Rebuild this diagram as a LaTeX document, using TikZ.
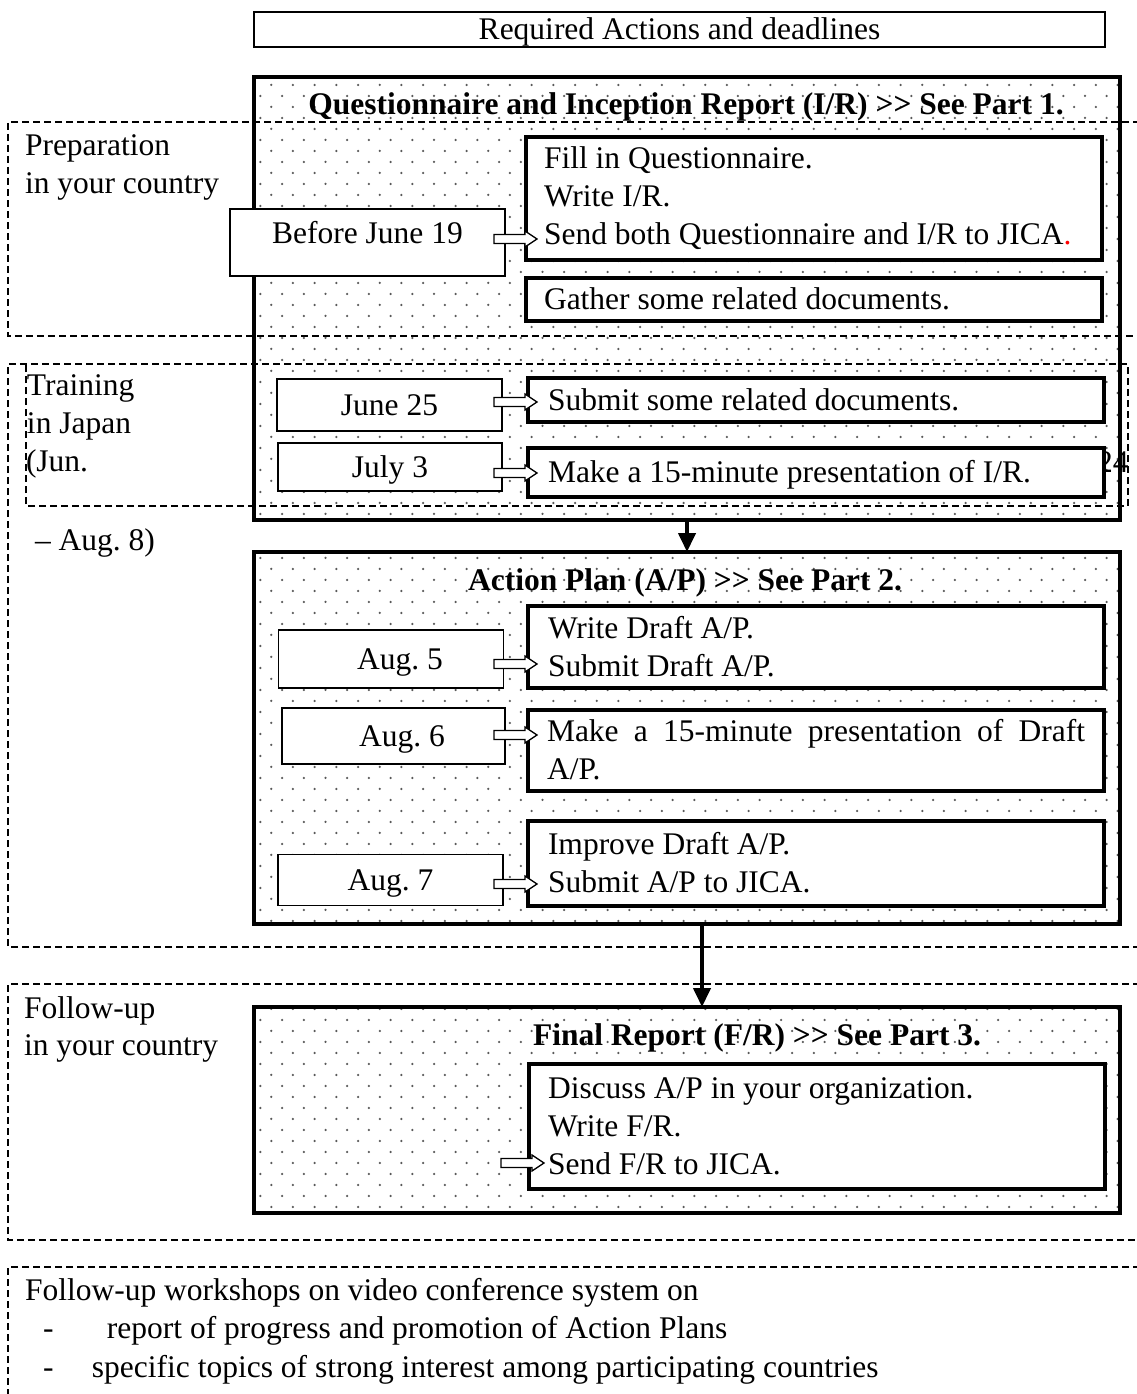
\documentclass[tikz,border=0pt]{standalone}
\usepackage{fontspec}
\setmainfont{Liberation Serif}
\usetikzlibrary{arrows.meta,patterns,calc}
\pgfdeclarepatternformonly{sparsedots}{\pgfqpoint{-1.6pt}{-1.6pt}}{\pgfqpoint{20pt}{20.4pt}}{\pgfqpoint{21.7pt}{22pt}}{%
  \pgfpathcircle{\pgfqpoint{0pt}{0pt}}{1.25pt}%
  \pgfpathcircle{\pgfqpoint{10.85pt}{11pt}}{1.25pt}%
  \pgfusepath{fill}}
\begin{document}
\begin{tikzpicture}[x=1pt,y=-1pt,
  every node/.style={font=\fontsize{31.5pt}{38pt}\selectfont, inner sep=0pt, outer sep=0pt},
  bf/.style={font=\fontsize{31.5pt}{38pt}\selectfont\bfseries},
  lbl/.style={text height=21pt, text depth=1pt},
  bigbox/.style={draw, line width=4pt, pattern=sparsedots, pattern color=black!65, minimum width=866pt},
  actbox/.style={draw, line width=4pt, fill=white, align=flush left, minimum width=576pt},
  datebox/.style={draw, line width=1.4pt, fill=white, lbl},
  region/.style={line width=1.3pt, dash pattern=on 7pt off 4pt},
  bigarrow/.style={line width=4pt, -{Triangle[width=17pt,length=19pt]}},
  pics/harrow/.style={code={\draw[line width=1.3pt, fill=white, line join=miter] (0,-4.5) -- (31,-4.5) -- (31,-8) -- (43,0) -- (31,8) -- (31,4.5) -- (0,4.5) -- cycle;}},
]
\useasboundingbox (0,0) rectangle (1136,1394);

% header
\node[draw, line width=1.4pt, minimum width=851pt, minimum height=35pt, lbl] (title) at (679.5,29.5) {Required Actions and deadlines};

% big dotted boxes
\node[bigbox, minimum height=443pt] (box1) at (687,298.5) {};
\node[bigbox, minimum height=372pt] (box2) at (687,738) {};
\node[bigbox, minimum height=206pt] (box3) at (687,1110) {};

\node[anchor=west, lbl] (num) at (1097,462) {24};
\draw[line width=4pt] (box1.north east) -- (box1.south east);

% action boxes
\node[actbox, minimum height=122pt, text width=540pt] (fillb) at (814,198.5) {Fill in Questionnaire.\\Write I/R.\\\mbox{Send both Questionnaire and I/R to JICA{\color{red}.}}};
\node[actbox, minimum height=43pt, text width=540pt, lbl] (gather) at (814,299.5) {Gather some related documents.};
\node[actbox, minimum height=44pt, text width=536pt, lbl] (submit) at (816,400) {Submit some related documents.};
\node[actbox, minimum height=49pt, text width=536pt, lbl] (make1) at (816,472.5) {Make a 15-minute presentation of I/R.};
\node[actbox, minimum height=82pt, text width=536pt] (write) at (816,646.5) {Write Draft A/P.\\Submit Draft A/P.};
\node[actbox, minimum height=81pt, text width=538pt] (make2) at (816,750) {\hbox to 538pt{Make\hfill a\hfill 15-minute\hfill presentation\hfill of\hfill Draft}\\A/P.};
\node[actbox, minimum height=85pt, text width=536pt] (improve) at (816,863) {Improve Draft A/P.\\Submit A/P to JICA.};
\node[actbox, minimum height=125pt, text width=538pt] (discuss) at (817,1126.5) {Discuss A/P in your organization.\\Write F/R.\\Send F/R to JICA.};

% date boxes
\node[datebox, minimum width=275pt, minimum height=67pt, text depth=20pt] (before) at (367.5,242.5) {Before June 19};
\node[datebox, minimum width=225pt, minimum height=52pt] (jun25) at (389.5,405) {June 25};
\node[datebox, minimum width=224pt, minimum height=48pt] (jul3) at (390,467) {July 3};
\node[datebox, minimum width=225pt, minimum height=58pt] (aug5) at (391,659) {\hspace*{18pt}Aug.\ 5};
\node[datebox, minimum width=223pt, minimum height=56pt] (aug6) at (393.5,736) {\hspace*{17pt}Aug.\ 6};
\node[datebox, minimum width=225pt, minimum height=51pt] (aug7) at (390.5,880) {Aug.\ 7};

% titles
\node[bf, lbl] (t1) at (686,105) {Questionnaire and Inception Report (I/R) >{}> See Part 1.};
\node[bf, lbl] (t2) at (685,580) {Action Plan (A/P) >{}> See Part 2.};
\node[bf, lbl] (t3) at (757,1035) {Final Report (F/R) >{}> See Part 3.};

% hollow arrows
\pic at ($(fillb.west)+(-32,40.5)$) {harrow};
\pic at ($(submit.west)+(-34,2)$) {harrow};
\pic at ($(make1.west)+(-34,0.5)$) {harrow};
\pic at ($(write.west)+(-34,17.5)$) {harrow};
\pic at ($(make2.west)+(-34,-15)$) {harrow};
\pic at ($(improve.west)+(-34,21)$) {harrow};
\pic at ($(discuss.west)+(-28,36.5)$) {harrow};

% big arrows
\coordinate (a1x) at (687,0);
\coordinate (a2x) at (702,0);
\draw[bigarrow] (box1.south -| a1x) -- (box2.north -| a1x);
\draw[bigarrow] (box2.south -| a2x) -- (box3.north -| a2x);

% dashed regions
\draw[region] (1140,122) -- (8,122) -- (8,336) -- (1140,336);
\draw[region] (1140,947) -- (8,947) -- (8,364) -- (1128,364) -- (1128,506) -- (26,506) -- (26,364);
\draw[region] (1140,984) -- (8,984) -- (8,1240) -- (1140,1240);
\draw[region] (1140,1267) -- (8,1267) -- (8,1400);

% region labels
\node[anchor=west, lbl] (p1) at (25,145) {Preparation};
\node[anchor=west, lbl] (p2) at (25,183) {in your country};
\node[anchor=west, lbl] (j1) at (27,385) {Training};
\node[anchor=west, lbl] (j2) at (27,423) {in Japan};
\node[anchor=west, lbl] (j3) at (26,461) {(Jun.};
\node[anchor=west, lbl] (j4) at (35,540) {-- Aug.\ 8)};
\node[anchor=west, lbl] (f1) at (24,1008) {Follow-up};
\node[anchor=west, lbl] (f2) at (24,1045) {in your country};

% bottom notes
\node[anchor=west, lbl] (w0) at (25,1290) {Follow-up workshops on video conference system on};
\node[anchor=west, lbl] (w1) at (43,1328) {\makebox[64pt][l]{-}report of progress and promotion of Action Plans};
\node[anchor=west, lbl] (w2) at (43,1367) {\makebox[49pt][l]{-}specific topics of strong interest among participating countries};
\end{tikzpicture}
\end{document}
